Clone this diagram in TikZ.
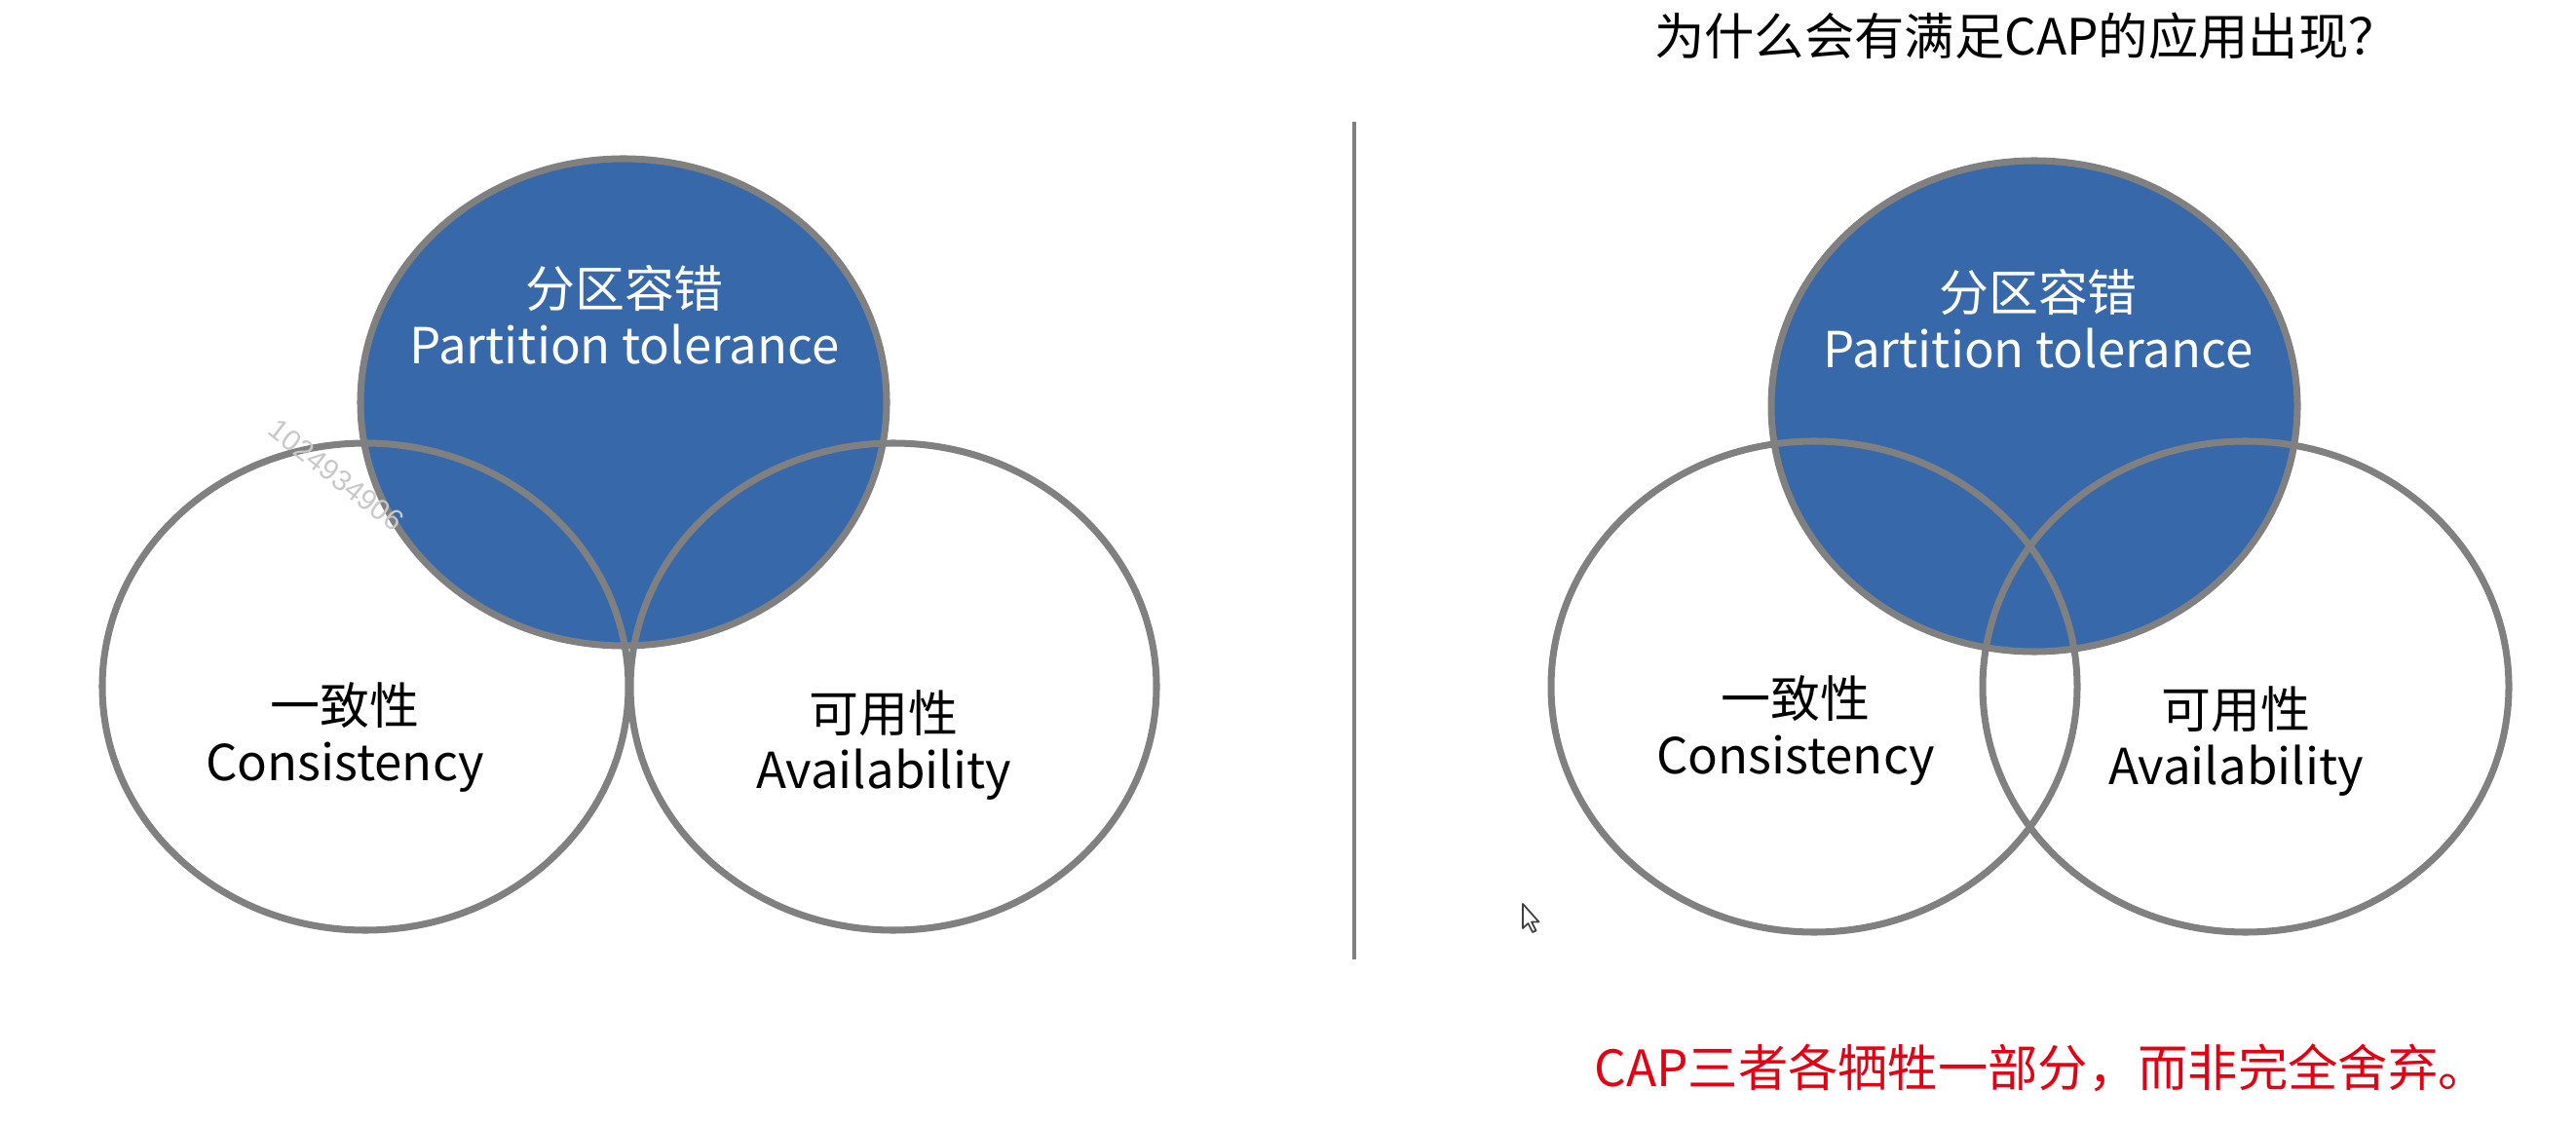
\documentclass[tikz,border=0pt]{standalone}
\usepackage{fontspec}
\setmainfont{Noto Sans CJK SC}
\newfontfamily\wmfont{Liberation Sans}
\usetikzlibrary{shapes.geometric}

\definecolor{capblue}{RGB}{54,104,170}
\definecolor{ringgray}{RGB}{128,128,128}
\definecolor{notered}{RGB}{228,0,18}
\definecolor{wmgray}{RGB}{200,200,200}

\begin{document}
\begin{tikzpicture}[
    ring/.style={ellipse, draw=ringgray, line width=2pt, inner sep=0pt,
                 minimum width=5.40cm, minimum height=5.00cm},
    pring/.style={ring, fill=capblue},
    lbl/.style={align=center, inner sep=0pt, font=\fontsize{14.5}{16.5}\selectfont},
    note/.style={inner sep=0pt, font=\fontsize{14.6}{17}\selectfont},
]
\fill[white] (0,0) rectangle (26.44,11.54);
\useasboundingbox (0,0) rectangle (26.44,11.54);

% Left diagram: C and A only touch
\node[pring] (ptL) at (6.40,7.41) {};
\node[ring] (cL) at (3.75,4.49) {};
\node[ring] (aL) at (9.17,4.49) {};
\node[lbl, text=white] (ptLtxt) at (6.41,8.31) {分区容错\\Partition tolerance};
\node[lbl] (cLtxt) at (3.54,3.97) {一致性\\Consistency};
\node[lbl] (aLtxt) at (9.07,3.885) {可用性\\Availability};

% Divider
\coordinate (divtop) at (13.90,10.29);
\coordinate (divbot) at (13.90,1.69);
\draw[ringgray, line width=1.4pt] (divtop) -- (divbot);

% Right diagram: all three overlap
\node[pring, minimum height=5.04cm] (ptR) at (20.88,7.37) {};
\node[ring, minimum height=5.04cm] (cR) at (18.62,4.49) {};
\node[ring, minimum height=5.04cm] (aR) at (23.05,4.49) {};
\node[lbl, text=white] (ptRtxt) at (20.92,8.27) {分区容错\\Partition tolerance};
\node[lbl] (cRtxt) at (18.43,4.04) {一致性\\Consistency};
\node[lbl] (aRtxt) at (22.95,3.93) {可用性\\Availability};

% Question and answer
\node[note] (question) at (20.80,11.17) {为什么会有满足CAP的应用出现？};
\node[note, text=notered] (answer) at (20.95,0.58) {CAP三者各牺牲一部分，而非完全舍弃。};

% Watermark and pointer
\node[text=wmgray, rotate=-38, inner sep=0pt, font=\wmfont\fontsize{8.5}{10}\selectfont] (wmark) at (3.45,6.66) {1024934906};
\draw[black!75, fill=white, line width=0.5pt, line join=round]
    (15.63,2.26) -- ++(0,-0.25) -- ++(0.055,0.05) -- ++(0.045,-0.09)
    -- ++(0.035,0.015) -- ++(-0.045,0.09) -- ++(0.075,0) -- cycle;

\end{tikzpicture}
\end{document}
